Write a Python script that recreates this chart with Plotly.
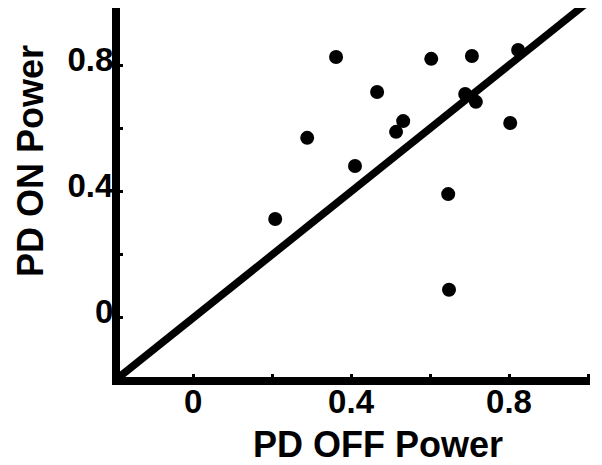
import plotly.graph_objects as go

# Data
pd_off_power = [0.208, 0.289, 0.362, 0.410, 0.466, 0.514, 0.532, 0.603, 0.646, 0.648,
                0.689, 0.706, 0.716, 0.803, 0.823]
pd_on_power = [0.313, 0.570, 0.826, 0.481, 0.715, 0.589, 0.623, 0.820, 0.392, 0.089,
               0.709, 0.829, 0.684, 0.617, 0.848]
identity_line = [-0.2, 1.0]
tick_values = [0, 0.2, 0.4, 0.6, 0.8, 1.0]
tick_labels = ["0", "", "0.4", "", "0.8", ""]
x_title = "PD OFF Power"
y_title = "PD ON Power"

FONT = "Liberation Sans, Arial, sans-serif"

fig = go.Figure()
fig.add_trace(go.Scatter(x=identity_line, y=identity_line, mode="lines",
                         line=dict(color="black", width=7.5), hoverinfo="skip"))
fig.add_trace(go.Scatter(x=pd_off_power, y=pd_on_power, mode="markers",
                         marker=dict(color="black", size=14)))

# The page body has an 8px margin, so the figure is drawn 8px in from the top-left.
W, H = 594, 457
L, R, T, B = 112, 12, 0, 88
pw, ph = W - L - R, H - T - B

axis_common = dict(showgrid=False, zeroline=False, showline=True, linecolor="black",
                   linewidth=8, ticks="inside", ticklen=3, tickwidth=3, tickcolor="black",
                   tickvals=tick_values, ticktext=tick_labels,
                   tickfont=dict(family=FONT, size=33, color="black", weight="bold"))

fig.update_xaxes(range=[-0.185, 1.005], ticklabelstandoff=-12, **axis_common)
fig.update_yaxes(range=[-0.187, 0.981], ticklabelstandoff=-8, ticklabelshift=-6, **axis_common)

fig.add_annotation(text="<b>" + x_title + "</b>", xref="paper", yref="paper",
                   x=(369.5 - L) / pw, y=(ph - 436) / ph, xanchor="center", yanchor="middle",
                   showarrow=False, font=dict(family=FONT, size=36, color="black"))
fig.add_annotation(text="<b>" + y_title + "</b>", xref="paper", yref="paper",
                   x=(22 - L) / pw, y=(ph - 153) / ph, xanchor="center", yanchor="middle",
                   textangle=-90, showarrow=False, font=dict(family=FONT, size=36, color="black"))

fig.update_layout(width=W, height=H, margin=dict(l=L, r=R, t=T, b=B, autoexpand=False),
                  plot_bgcolor="white", paper_bgcolor="white", showlegend=False)

fig.write_html("out.html")
